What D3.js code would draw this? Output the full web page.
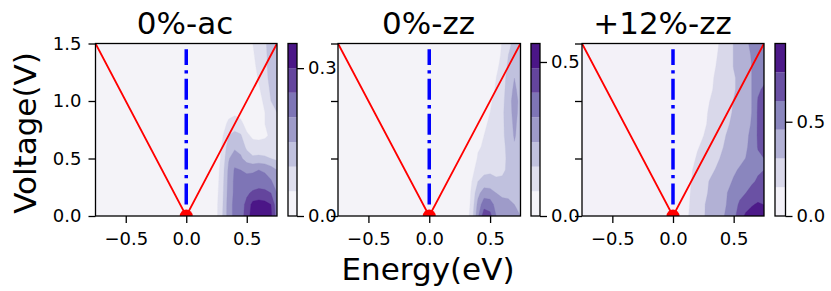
<!DOCTYPE html>
<html><head><meta charset="utf-8">
<script src="https://cdn.jsdelivr.net/npm/d3@7"></script>
<style>
body{margin:0;background:#fff}
svg{display:block}
text{font-family:"DejaVu Sans",sans-serif;fill:#000}
</style></head>
<body><svg id="c" width="831" height="291"></svg>
<script>
// ---- data ----
const energies = [0.05,0.10,0.15,0.20,0.25,0.30,0.35,0.40,0.45,0.50,0.55,0.60,0.65,0.70,0.75];
const voltages = [0,0.1,0.2,0.3,0.4,0.5,0.6,0.7,0.8,0.9,1.0,1.1,1.2,1.3,1.4,1.5];
const titles = ["0%-ac","0%-zz","+12%-zz"];
const xTicks = [-0.5,0,0.5];
const yTicks = [0,0.5,1.0,1.5];
const levelsAc   = [0,0.05,0.10,0.15,0.20,0.25,0.30,0.35];
const levelsZz   = [0,0.08,0.16,0.24,0.32,0.40,0.48,0.56];
const levelsZz12 = [0,0.1525,0.305,0.4575,0.61,0.7625,0.915];
const cbTicksAc = [0,0.3], cbTicksZz = [0,0.5], cbTicksZz12 = [0,0.5];
const diracE = [-0.75,0,0.75], diracV = [1.5,0,1.5];
const fermiE = [0,0], fermiV = [0.1,1.45];
const diracPoint = [0,0];
// rows: voltage (0 -> 1.5), columns: energies (0.05 -> 0.75); left of 0.05 eV all 0
const ldosAc = [
[0,0,0,0,0.04,0.10,0.175,0.215,0.225,0.275,0.325,0.33,0.325,0.31,0.225],
[0,0,0,0,0.04,0.095,0.175,0.215,0.225,0.265,0.315,0.32,0.315,0.30,0.215],
[0,0,0,0,0.035,0.09,0.17,0.21,0.22,0.24,0.26,0.27,0.265,0.25,0.20],
[0,0,0,0,0.03,0.085,0.165,0.21,0.215,0.21,0.215,0.22,0.215,0.205,0.175],
[0,0,0,0,0.025,0.08,0.16,0.205,0.20,0.195,0.195,0.20,0.195,0.175,0.15],
[0,0,0,0,0.015,0.07,0.145,0.18,0.16,0.125,0.11,0.115,0.11,0.10,0.09],
[0,0,0,0,0.01,0.06,0.125,0.14,0.13,0.09,0.07,0.065,0.065,0.065,0.065],
[0,0,0,0,0.005,0.045,0.10,0.115,0.105,0.06,0.04,0.04,0.045,0.055,0.06],
[0,0,0,0,0,0.025,0.065,0.075,0.065,0.03,0.025,0.035,0.05,0.075,0.085],
[0,0,0,0,0,0.01,0.03,0.04,0.03,0.015,0.015,0.03,0.05,0.085,0.10],
[0,0,0,0,0,0,0.01,0.015,0.01,0,0.015,0.035,0.06,0.10,0.12],
[0,0,0,0,0,0,0,0,0,0,0.02,0.045,0.07,0.11,0.14],
[0,0,0,0,0,0,0,0,0,0.005,0.03,0.055,0.08,0.12,0.15],
[0,0,0,0,0,0,0,0,0,0.01,0.04,0.06,0.085,0.125,0.15],
[0,0,0,0,0,0,0,0,0,0.015,0.045,0.065,0.09,0.12,0.13],
[0,0,0,0,0,0,0,0,0,0.02,0.05,0.07,0.095,0.115,0.12]];
const ldosZz = [
[0,0,0,0,0,0.032,0.12,0.304,0.448,0.424,0.32,0.288,0.272,0.256,0.24],
[0,0,0,0,0,0.024,0.104,0.264,0.368,0.36,0.288,0.264,0.256,0.24,0.224],
[0,0,0,0,0,0.016,0.096,0.216,0.28,0.272,0.24,0.224,0.224,0.216,0.20],
[0,0,0,0,0,0.008,0.08,0.16,0.192,0.192,0.176,0.176,0.192,0.20,0.184],
[0,0,0,0,0,0,0.056,0.112,0.136,0.144,0.136,0.144,0.176,0.20,0.184],
[0,0,0,0,0,0,0.032,0.088,0.104,0.112,0.12,0.136,0.176,0.216,0.192],
[0,0,0,0,0,0,0.016,0.072,0.088,0.104,0.112,0.136,0.184,0.232,0.20],
[0,0,0,0,0,0,0,0.048,0.08,0.096,0.112,0.144,0.192,0.248,0.208],
[0,0,0,0,0,0,0,0.032,0.072,0.088,0.112,0.144,0.20,0.256,0.208],
[0,0,0,0,0,0,0,0.016,0.056,0.08,0.104,0.144,0.208,0.264,0.216],
[0,0,0,0,0,0,0,0,0.032,0.072,0.096,0.136,0.208,0.272,0.216],
[0,0,0,0,0,0,0,0,0.016,0.056,0.088,0.128,0.20,0.256,0.208],
[0,0,0,0,0,0,0,0,0,0.04,0.08,0.12,0.192,0.24,0.20],
[0,0,0,0,0,0,0,0,0,0.016,0.064,0.104,0.176,0.216,0.192],
[0,0,0,0,0,0,0,0,0,0,0.04,0.096,0.16,0.192,0.184],
[0,0,0,0,0,0,0,0,0,0,0.024,0.088,0.144,0.176,0.168]];
const ldosZz12 = [
[0,0.09,0.20,0.26,0.29,0.35,0.40,0.43,0.49,0.56,0.70,0.79,0.82,0.84,0.81],
[0,0.08,0.18,0.24,0.29,0.34,0.38,0.41,0.47,0.53,0.64,0.70,0.75,0.78,0.76],
[0,0.06,0.17,0.23,0.27,0.32,0.37,0.40,0.46,0.50,0.56,0.61,0.66,0.69,0.69],
[0,0.05,0.15,0.21,0.26,0.31,0.34,0.38,0.43,0.47,0.52,0.55,0.59,0.63,0.64],
[0,0.03,0.14,0.20,0.24,0.27,0.31,0.35,0.40,0.44,0.47,0.50,0.55,0.59,0.61],
[0,0,0.11,0.17,0.21,0.24,0.27,0.32,0.37,0.40,0.43,0.46,0.52,0.58,0.61],
[0,0,0.08,0.14,0.18,0.21,0.26,0.29,0.34,0.37,0.40,0.44,0.50,0.62,0.64],
[0,0,0.05,0.11,0.15,0.20,0.24,0.27,0.32,0.35,0.38,0.43,0.49,0.63,0.65],
[0,0,0.03,0.08,0.12,0.18,0.23,0.26,0.29,0.34,0.37,0.41,0.47,0.63,0.67],
[0,0,0,0.05,0.11,0.17,0.21,0.24,0.27,0.32,0.35,0.40,0.46,0.63,0.67],
[0,0,0,0.03,0.09,0.15,0.20,0.23,0.26,0.31,0.34,0.38,0.46,0.62,0.65],
[0,0,0,0.02,0.06,0.12,0.18,0.21,0.24,0.29,0.34,0.38,0.46,0.59,0.63],
[0,0,0,0,0.05,0.11,0.17,0.20,0.24,0.29,0.34,0.38,0.46,0.53,0.58],
[0,0,0,0,0.03,0.09,0.15,0.20,0.24,0.31,0.35,0.40,0.46,0.50,0.55],
[0,0,0,0,0.02,0.08,0.14,0.18,0.24,0.31,0.35,0.41,0.47,0.50,0.53],
[0,0,0,0,0,0.06,0.12,0.18,0.24,0.31,0.37,0.43,0.49,0.50,0.52]];

// ---- layout ----
const TOP = 43.5, BOTTOM = 216;
const panels = [
  {title:titles[0], data:ldosAc,   levels:levelsAc,   cbTicks:cbTicksAc,   x0:95.5, x1:277,   cb:[288,297],   tx:185, showY:true},
  {title:titles[1], data:ldosZz,   levels:levelsZz,   cbTicks:cbTicksZz,   x0:338,  x1:520.5, cb:[531,540],   tx:428.5, showY:false},
  {title:titles[2], data:ldosZz12, levels:levelsZz12, cbTicks:cbTicksZz12, x0:582,  x1:764,   cb:[775,785.5], tx:662.5, showY:false}
];
const svg = d3.select("#c");
const fmt = d3.format(".1f");
const TICK = 7, FS = 18;

panels.forEach((p, pi) => {
  const g = svg.append("g");
  const xs = d3.scaleLinear([-0.75,0.75],[p.x0,p.x1]);
  const ys = d3.scaleLinear([0,1.5],[BOTTOM,TOP]);
  const n = p.levels.length - 1;
  const color = k => d3.interpolatePurples((k+0.5)/n);
  const clipId = "clip"+pi;
  g.append("clipPath").attr("id",clipId).append("rect")
    .attr("x",p.x0).attr("y",TOP).attr("width",p.x1-p.x0).attr("height",BOTTOM-TOP);
  const body = g.append("g").attr("clip-path",`url(#${clipId})`);
  body.append("rect").attr("x",p.x0).attr("y",TOP).attr("width",p.x1-p.x0).attr("height",BOTTOM-TOP)
    .attr("fill",color(0));
  const nx = energies.length, ny = voltages.length;
  const dE = energies[1]-energies[0], dV = voltages[1]-voltages[0];
  const flat = p.data.flat();
  const contours = d3.contours().size([nx,ny]).thresholds(p.levels.slice(1,-1))(flat);
  const proj = d3.geoTransform({point(x,y){
    this.stream.point(xs(energies[0]+(x-0.5)*dE), ys(voltages[0]+(y-0.5)*dV));
  }});
  const path = d3.geoPath(proj);
  body.selectAll("path.band").data(contours).join("path").attr("class","band")
    .attr("d",path).attr("fill",(d,i)=>color(i+1)).attr("stroke",(d,i)=>color(i+1)).attr("stroke-width",0.3);
  // Dirac cone lines
  const line = d3.line().x(d=>xs(d[0])).y(d=>ys(d[1]));
  body.append("path").attr("d",line(d3.zip(diracE,diracV))).attr("fill","none")
    .attr("stroke","#ff0000").attr("stroke-width",1.8);
  body.append("path").attr("d",line(d3.zip(fermiE,fermiV))).attr("fill","none")
    .attr("stroke","#0000ff").attr("stroke-width",3.5).attr("stroke-dasharray","21,5.3,3.3,5.3");
  body.append("circle").attr("cx",xs(diracPoint[0])).attr("cy",ys(diracPoint[1])).attr("r",6.5).attr("fill","#ff0000");
  // spines
  g.append("rect").attr("x",p.x0).attr("y",TOP).attr("width",p.x1-p.x0).attr("height",BOTTOM-TOP)
    .attr("fill","none").attr("stroke","#000").attr("stroke-width",1.3);
  // x axis
  const xa = g.append("g").attr("transform",`translate(0,${BOTTOM})`)
    .call(d3.axisBottom(xs).tickValues(xTicks).tickSize(TICK).tickPadding(9.5).tickFormat(fmt));
  xa.select(".domain").remove();
  xa.selectAll("line").attr("stroke","#000").attr("stroke-width",1.3);
  xa.selectAll("text").attr("font-size",FS).attr("font-family","DejaVu Sans").attr("fill","#000");
  // y axis
  const ya = g.append("g").attr("transform",`translate(${p.x0},0)`)
    .call(d3.axisLeft(ys).tickValues(yTicks).tickSize(TICK).tickPadding(7).tickFormat(p.showY?fmt:()=>""));
  ya.select(".domain").remove();
  ya.selectAll("line").attr("stroke","#000").attr("stroke-width",1.3);
  ya.selectAll("text").attr("font-size",FS).attr("font-family","DejaVu Sans").attr("fill","#000");
  // title
  g.append("text").attr("x",p.tx).attr("y",33.5).attr("text-anchor","middle")
    .attr("font-size",31).text(p.title);
  // colorbar
  const cbY = d3.scaleLinear([p.levels[0], p.levels[n]],[BOTTOM,TOP]);
  const cbg = g.append("g");
  cbg.selectAll("rect.cbband").data(d3.range(n)).join("rect").attr("class","cbband")
    .attr("x",p.cb[0]).attr("width",p.cb[1]-p.cb[0])
    .attr("y",k=>cbY(p.levels[k+1])).attr("height",k=>cbY(p.levels[k])-cbY(p.levels[k+1]))
    .attr("fill",k=>color(k));
  cbg.append("rect").attr("x",p.cb[0]).attr("y",TOP).attr("width",p.cb[1]-p.cb[0]).attr("height",BOTTOM-TOP)
    .attr("fill","none").attr("stroke","#000").attr("stroke-width",1.3);
  const ca = cbg.append("g").attr("transform",`translate(${p.cb[1]},0)`)
    .call(d3.axisRight(cbY).tickValues(p.cbTicks).tickSize(TICK).tickPadding(4).tickFormat(fmt));
  ca.select(".domain").remove();
  ca.selectAll("line").attr("stroke","#000").attr("stroke-width",1.3);
  ca.selectAll("text").attr("font-size",FS).attr("font-family","DejaVu Sans").attr("fill","#000");
});

// axis labels
svg.append("text").attr("transform","translate(35.6,133) rotate(-90)").attr("text-anchor","middle")
  .attr("font-size",31).text("Voltage(V)");
svg.append("text").attr("x",428).attr("y",280).attr("text-anchor","middle")
  .attr("font-size",31).text("Energy(eV)");
</script></body></html>
